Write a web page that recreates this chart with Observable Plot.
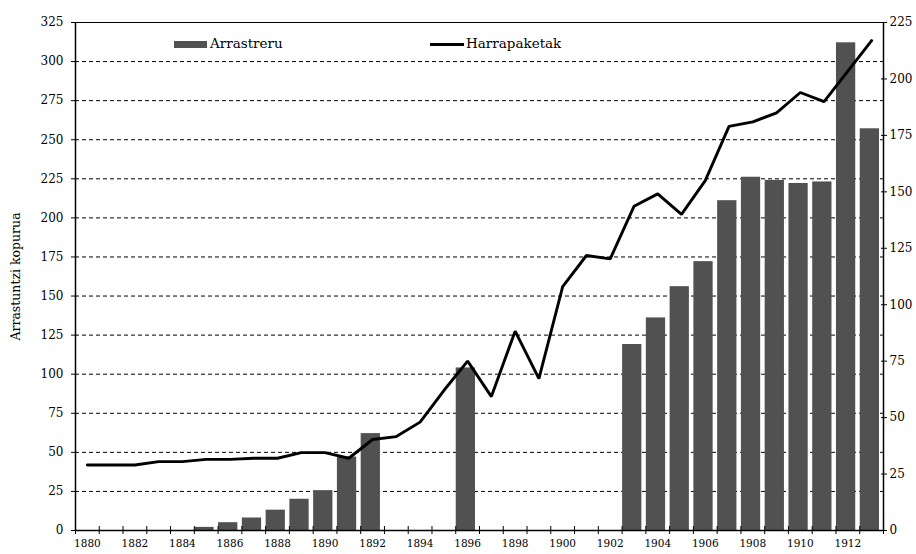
<!DOCTYPE html>
<html><head><meta charset="utf-8">
<script src="https://cdn.jsdelivr.net/npm/d3@7"></script>
<script src="https://cdn.jsdelivr.net/npm/@observablehq/plot@0.6"></script>
<style>
body{margin:0;background:#fff;}
#wrap{position:relative;width:916px;height:554px;font-family:"DejaVu Serif",serif;}
.leg{position:absolute;font-size:13.5px;color:#000;line-height:1;white-space:nowrap;}
.sw{position:absolute;}
</style></head><body><div id="wrap"></div>
<script>
const years = [1880,1881,1882,1883,1884,1885,1886,1887,1888,1889,1890,1891,1892,1893,1894,1895,1896,1897,1898,1899,1900,1901,1902,1903,1904,1905,1906,1907,1908,1909,1910,1911,1912,1913];
const arrastreru = [null,null,null,null,null,2,5,8,13,20,25.5,47,62,null,null,null,104,null,null,null,null,null,null,119,136,156,172,211,226,224,222,223,312,257];
const harrapaketak = [29,29,29,30.5,30.5,31.5,31.5,32,32,34.5,34.5,32,40.3,41.6,48,62,75,59.3,88.3,67.3,108,121.8,120.3,143.6,149.1,140,155,179,181,185,194,190,203.5,217];
const leftTicks = [0,25,50,75,100,125,150,175,200,225,250,275,300,325];
const rightTicks = [0,25,50,75,100,125,150,175,200,225];
const gridLines = [25,50,75,100,125,150,175,200,225,250,275,300];
const labelYears = [1880,1882,1884,1886,1888,1890,1892,1894,1896,1898,1900,1902,1904,1906,1908,1910,1912];
const yTitle = "Arrastuntzi kopurua";
const legendBar = "Arrastreru";
const legendLine = "Harrapaketak";

const k = 325 / 225; // right axis -> left axis units
const data = years.map((y, i) => ({year: y, bar: arrastreru[i], catch: harrapaketak[i]}));
const bounds = years.concat([years[years.length - 1] + 1]);

const chart = Plot.plot({
  width: 916, height: 554,
  marginLeft: 75, marginRight: 33, marginTop: 22, marginBottom: 24,
  style: {fontFamily: "DejaVu Serif", fontSize: "12px", background: "#fff", color: "#000", overflow: "visible"},
  x: {type: "linear", domain: [bounds[0], bounds[bounds.length - 1]]},
  y: {domain: [0, 325]},
  marks: [
    Plot.ruleY(gridLines, {stroke: "#000", strokeWidth: 1, strokeDasharray: "4,3"}),
    Plot.ruleY([325], {stroke: "#000", strokeWidth: 1}),
    Plot.rectY(data.filter(d => d.bar != null), {x1: d => d.year, x2: d => d.year + 1, y: "bar", insetLeft: 0.5, insetRight: 4, fill: "#515151"}),
    Plot.line(data, {x: d => d.year + 0.5, y: d => d.catch * k, stroke: "#000", strokeWidth: 2.9, strokeLinejoin: "miter"}),
    Plot.ruleX([bounds[0]], {stroke: "#000", strokeWidth: 1.5}),
    Plot.ruleX([bounds[bounds.length - 1]], {stroke: "#000", strokeWidth: 1.5}),
    Plot.ruleY([0], {stroke: "#000", strokeWidth: 1.5}),
    Plot.axisY({ticks: leftTicks, tickSize: 4, tickPadding: 8, label: null, fontSize: 12, tickFormat: d => String(d)}),
    Plot.axisY({anchor: "right", ticks: rightTicks.map(v => v * k), tickFormat: v => String(Math.round(v / k)), tickSize: 6, tickPadding: 3, dx: -3, label: null, fontSize: 12}),
    Plot.axisX({ticks: bounds, tickSize: 8, dy: -4, tickFormat: () => "", label: null}),
    Plot.axisX({ticks: labelYears.map(y => y + 0.5), tickSize: 0, tickPadding: 9, tickFormat: d => String(Math.round(d - 0.5)), label: null, fontSize: 10.5}),
    Plot.text([yTitle], {frameAnchor: "left", textAnchor: "middle", rotate: -90, dx: -60, fontSize: 12.5, fill: "#000"})
  ]
});

const wrap = document.getElementById("wrap");
wrap.appendChild(chart);

function addDiv(cls, css, text) {
  const d = document.createElement("div");
  d.className = cls;
  Object.assign(d.style, css);
  if (text) d.textContent = text;
  wrap.appendChild(d);
}
addDiv("sw", {left: "174px", top: "41px", width: "33px", height: "7px", background: "#515151"});
addDiv("leg", {left: "210px", top: "37px"}, legendBar);
addDiv("sw", {left: "430px", top: "43px", width: "34px", height: "2.6px", background: "#000"});
addDiv("leg", {left: "466px", top: "37px"}, legendLine);
</script>
</body></html>
